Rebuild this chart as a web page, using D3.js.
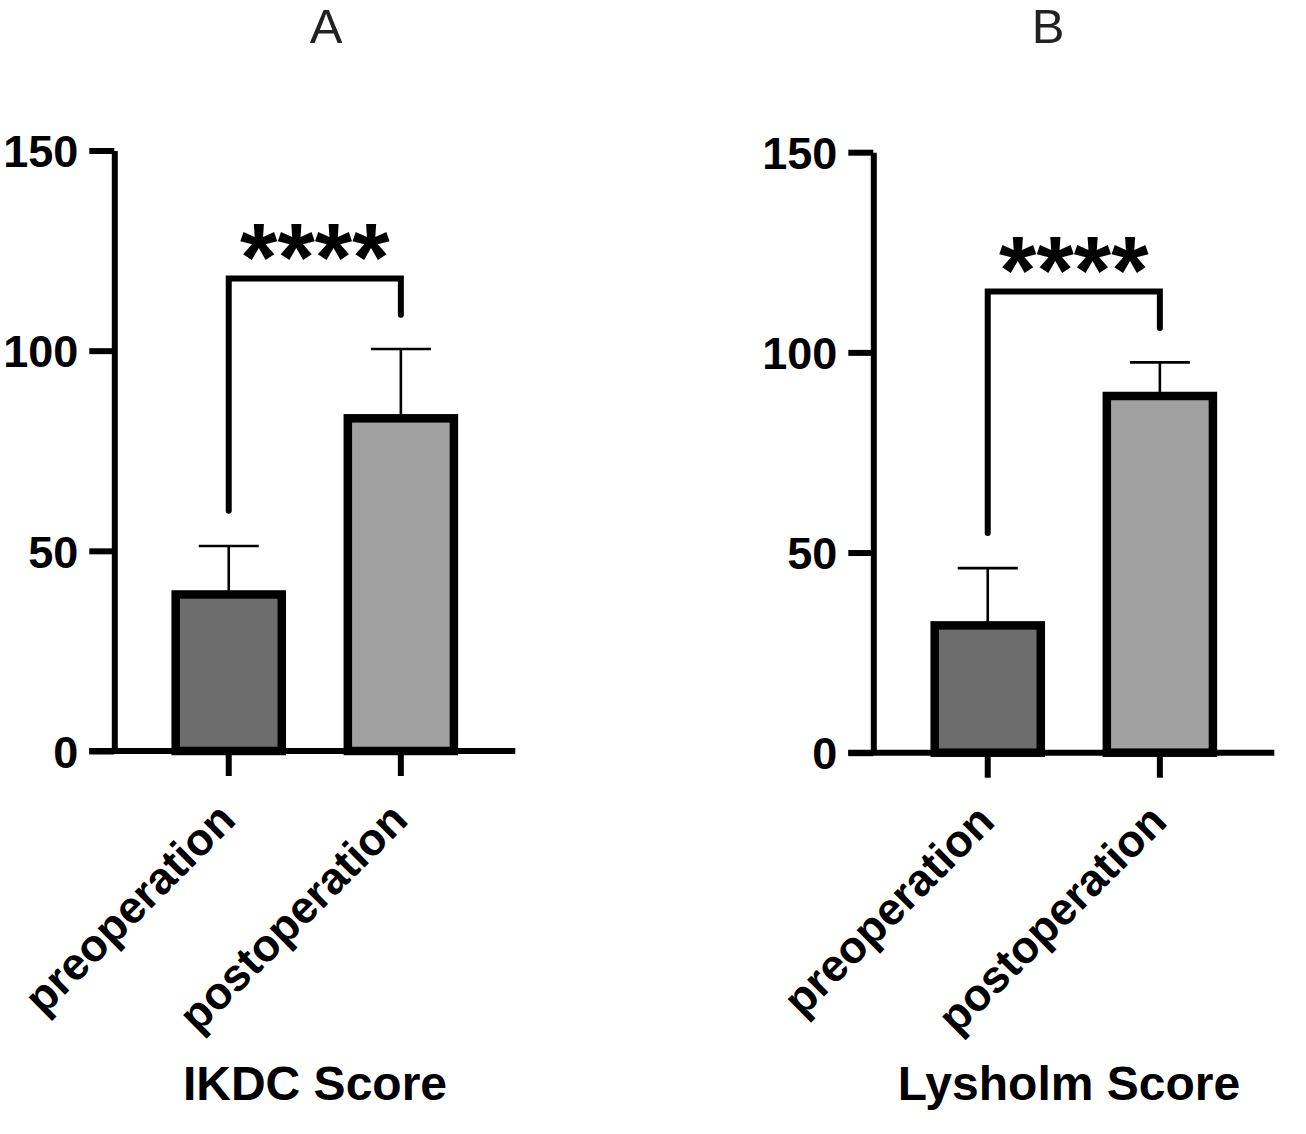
<!DOCTYPE html>
<html>
<head>
<meta charset="utf-8">
<script src="https://cdn.jsdelivr.net/npm/d3@7"></script>
<style>
  html, body { margin: 0; padding: 0; background: #fff; }
  svg { display: block; font-family: "Liberation Sans", Arial, Helvetica, sans-serif; }
</style>
</head>
<body>
<div id="chart"></div>
<script>
// values
var categories = ['preoperation', 'postoperation'];
var ikdcMean = [39.1, 83.1];
var ikdcSD = [12.1, 17.3];
var lysholmMean = [31.8, 89.1];
var lysholmSD = [14.3, 8.4];
var yTicks = [0, 50, 100, 150];
var barFills = ['#6d6d6d', '#a1a1a2'];
// significance bracket: [left leg bottom, top, right leg bottom] in score units
var ikdcBracket = [60, 118, 109];
var lysholmBracket = [54.9, 115.2, 106.1];
var sigLabel = '****';

var width = 1306;
var height = 1134;

var svg = d3.select('#chart').append('svg')
    .attr('width', width)
    .attr('height', height);

svg.append('rect')
    .attr('width', width)
    .attr('height', height)
    .attr('fill', '#fff');

var panels = [
    { letter: 'A', title: 'IKDC Score', mean: ikdcMean, sd: ikdcSD, bracket: ikdcBracket,
      axisX: 114.3, y0: 751, letterX: 326, titleX: 315 },
    { letter: 'B', title: 'Lysholm Score', mean: lysholmMean, sd: lysholmSD, bracket: lysholmBracket,
      axisX: 873.3, y0: 752.7, letterX: 1048, titleX: 1069 }
];

panels.forEach(function (p) {
    var g = svg.append('g');

    var y = d3.scaleLinear()
        .domain([0, 150])
        .range([p.y0, p.y0 - 600.5]);

    var x = d3.scaleBand()
        .domain(categories)
        .range([p.axisX, p.axisX + 401])
        .paddingInner(0.3837)
        .paddingOuter(0.3567);

    // panel letter
    g.append('text')
        .attr('x', p.letterX)
        .attr('y', 43)
        .attr('text-anchor', 'middle')
        .attr('font-size', 49)
        .attr('fill', '#222')
        .text(p.letter);

    // error bars (upper only), drawn under the bars
    var err = g.selectAll('.err')
        .data(categories)
        .enter()
        .append('g')
        .attr('class', 'err');
    err.append('line')
        .attr('x1', function (d) { return x(d) + x.bandwidth() / 2; })
        .attr('x2', function (d) { return x(d) + x.bandwidth() / 2; })
        .attr('y1', function (d, i) { return y(p.mean[i]); })
        .attr('y2', function (d, i) { return y(p.mean[i] + p.sd[i]); })
        .attr('stroke', '#000')
        .attr('stroke-width', 2.6);
    err.append('line')
        .attr('x1', function (d) { return x(d) + x.bandwidth() / 2 - 30; })
        .attr('x2', function (d) { return x(d) + x.bandwidth() / 2 + 30; })
        .attr('y1', function (d, i) { return y(p.mean[i] + p.sd[i]); })
        .attr('y2', function (d, i) { return y(p.mean[i] + p.sd[i]); })
        .attr('stroke', '#000')
        .attr('stroke-width', 2.6);

    // bars
    g.selectAll('.bar')
        .data(categories)
        .enter()
        .append('rect')
        .attr('class', 'bar')
        .attr('x', function (d) { return x(d); })
        .attr('width', x.bandwidth())
        .attr('y', function (d, i) { return y(p.mean[i]); })
        .attr('height', function (d, i) { return y(0) - y(p.mean[i]); })
        .attr('fill', function (d, i) { return barFills[i]; })
        .attr('stroke', '#000')
        .attr('stroke-width', 8.5);

    // y axis
    var yAxis = g.append('g')
        .attr('transform', 'translate(' + p.axisX + ',0)')
        .call(d3.axisLeft(y).tickValues(yTicks).tickSize(25).tickSizeOuter(0).tickPadding(11));
    yAxis.select('.domain').attr('stroke-width', 6);
    yAxis.selectAll('.tick line').attr('stroke-width', 6);
    yAxis.selectAll('.tick text')
        .attr('font-size', 45)
        .attr('font-weight', 'bold')
        .attr('font-family', '"Liberation Sans", Arial, sans-serif')
        .attr('fill', '#000')
        .attr('dy', '0.36em');

    // x axis
    g.append('line')
        .attr('x1', p.axisX - 25)
        .attr('x2', p.axisX + 401)
        .attr('y1', y(0))
        .attr('y2', y(0))
        .attr('stroke', '#000')
        .attr('stroke-width', 6);

    var xAxis = g.append('g')
        .attr('transform', 'translate(0,' + y(0) + ')')
        .call(d3.axisBottom(x).tickSize(25).tickSizeOuter(0));
    xAxis.select('.domain').remove();
    xAxis.selectAll('.tick line').attr('stroke-width', 6);
    xAxis.selectAll('.tick text')
        .attr('font-size', 45)
        .attr('font-weight', 'bold')
        .attr('font-family', '"Liberation Sans", Arial, sans-serif')
        .attr('fill', '#000')
        .attr('text-anchor', 'end')
        .attr('y', 0)
        .attr('dy', 0)
        .attr('transform', 'translate(9,71) rotate(-45)');

    // significance bracket
    var c0 = x(categories[0]) + x.bandwidth() / 2;
    var c1 = x(categories[1]) + x.bandwidth() / 2;
    var b = p.bracket;
    g.append('path')
        .attr('d', d3.line()([[c0, y(b[0])], [c0, y(b[1])], [c1, y(b[1])], [c1, y(b[2])]]))
        .attr('fill', 'none')
        .attr('stroke', '#000')
        .attr('stroke-width', 6)
        .attr('stroke-linecap', 'round')
        .attr('stroke-linejoin', 'miter');

    g.append('text')
        .attr('x', (c0 + c1) / 2)
        .attr('y', y(b[1]) + 11)
        .attr('text-anchor', 'middle')
        .attr('font-size', 96)
        .attr('font-weight', 'bold')
        .attr('fill', '#000')
        .text(sigLabel);

    // axis title
    g.append('text')
        .attr('x', p.titleX)
        .attr('y', 1100)
        .attr('text-anchor', 'middle')
        .attr('font-size', 48)
        .attr('font-weight', 'bold')
        .attr('fill', '#000')
        .text(p.title);
});
</script>
</body>
</html>
